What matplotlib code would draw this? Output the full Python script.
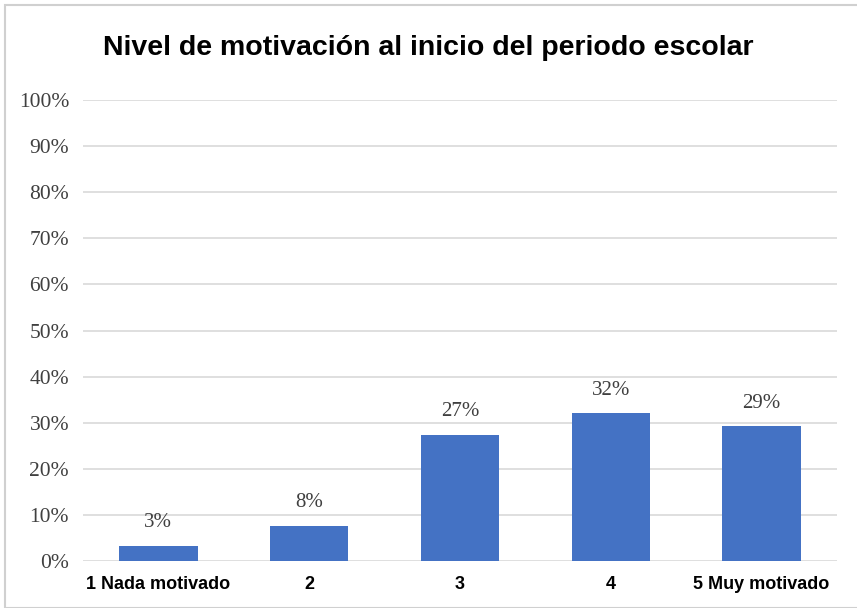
import numpy as np
import matplotlib.pyplot as plt
from matplotlib import font_manager
from matplotlib.patches import Rectangle

categories = ["1 Nada motivado", "2", "3", "4", "5 Muy motivado"]
values = [3.2, 7.7, 27.3, 32.0, 29.2]
yticks = [0, 10, 20, 30, 40, 50, 60, 70, 80, 90, 100]

# narrow sans if present, else regular one at a smaller size
names = {f.name for f in font_manager.fontManager.ttflist}
if "Liberation Sans Narrow" in names:
    sans, title_size, xlab_size = "Liberation Sans Narrow", 24, 14.5
else:
    sans, title_size, xlab_size = "Liberation Sans", 20.5, 13

fig = plt.figure(figsize=(8.57, 6.08), dpi=100)
ax = fig.add_axes([83 / 857, 1 - 561 / 608, 754 / 857, 461 / 608])

x = np.arange(len(categories))
ax.bar(x, values, width=0.52, color="#4472C4", zorder=3)

for xi, v in zip(x, values):
    ax.text(xi, v + 3.0, f"{round(v):.0f}%", ha="center", va="bottom",
            fontsize=15, family="Liberation Serif", color="#404040")

ax.set_xlim(-0.5, len(categories) - 0.5)
ax.set_ylim(0, 100)
ax.set_yticks(yticks)
ax.set_yticklabels([f"{t}%" for t in yticks], family="Liberation Serif",
                   fontsize=15.5, color="#404040")
ax.set_xticks(x)
ax.set_xticklabels(categories, family=sans, fontweight="bold",
                   fontsize=xlab_size, color="#000000")
ax.tick_params(axis="y", length=0, pad=10)
ax.tick_params(axis="x", length=0, pad=11)
ax.grid(axis="y", color="#d9d9d9", linewidth=1.2, zorder=0)
for s in ax.spines.values():
    s.set_visible(False)

fig.text(0.5, 1 - 48 / 608, "Nivel de motivación al inicio del periodo escolar",
         ha="center", va="center", fontsize=title_size, family=sans,
         fontweight="bold", color="#000000")

fig.patches.append(Rectangle((5 / 857, 0), 1, 1 - 5 / 608, transform=fig.transFigure,
                             fill=False, edgecolor="#d0d0d0", linewidth=1.5))

fig.savefig("out.png", dpi=100)
